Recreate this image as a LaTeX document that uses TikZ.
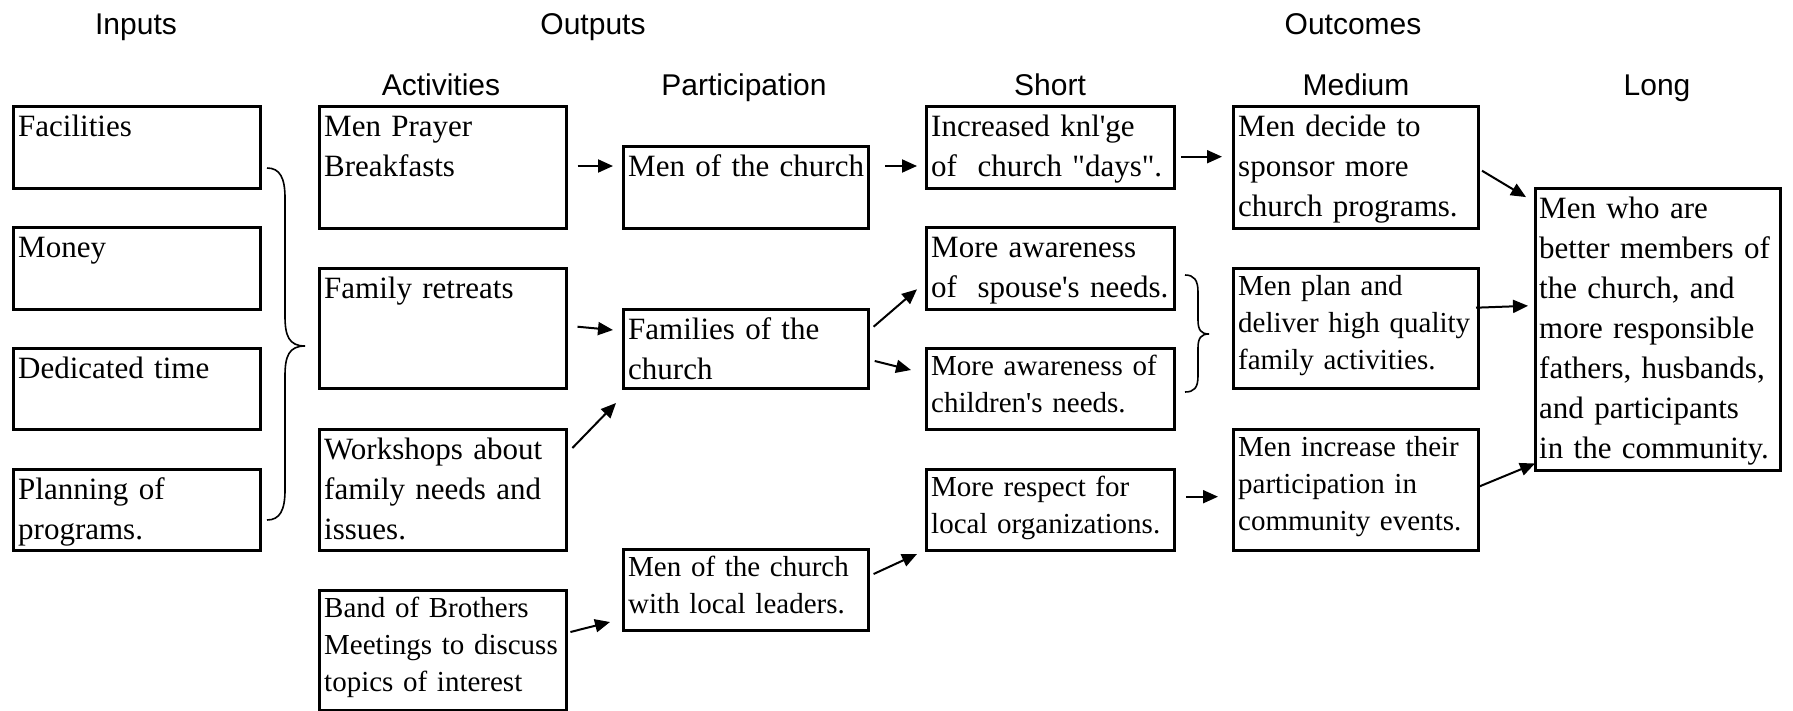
\documentclass[tikz,border=0pt]{standalone}
\usepackage{fontspec}
\newfontfamily\boxfont{Liberation Serif}
\newfontfamily\hdrfont{Liberation Sans}
\usetikzlibrary{arrows.meta,calc}
\begin{document}
\begin{tikzpicture}[x=1pt,y=-1pt,
  box/.style={draw,line width=3pt,inner sep=0pt,anchor=north west},
  big/.style={anchor=base west,inner sep=0pt,text width=260pt,align=left,font=\boxfont\fontsize{31}{40}\selectfont},
  sml/.style={anchor=base west,inner sep=0pt,text width=260pt,align=left,font=\boxfont\fontsize{29}{37}\selectfont},
  lngt/.style={anchor=base west,inner sep=0pt,text width=260pt,align=left,font=\boxfont\fontsize{31}{40}\selectfont},
  hdr/.style={anchor=base,inner sep=0pt,font=\hdrfont\fontsize{30}{36}\selectfont},
  arr/.style={line width=2pt,-{Triangle[length=15pt,width=13pt]}},
  brc/.style={line width=1.6pt}]
\useasboundingbox (0,0) rectangle (1793,710);

% headers
\node[hdr] (hIn) at (136,34) {Inputs};
\node[hdr] (hOut) at (593,34) {Outputs};
\node[hdr] (hOc) at (1353,34) {Outcomes};
\node[hdr] (hAct) at (441,95) {Activities};
\node[hdr] (hPar) at (744,95) {Participation};
\node[hdr] (hSh) at (1050,95) {Short};
\node[hdr] (hMed) at (1356,95) {Medium};
\node[hdr] (hLong) at (1657,95) {Long};

% inputs
\node[box,minimum width=247pt,minimum height=82pt] (fac) at (12,105) {};
\node[box,minimum width=247pt,minimum height=82pt] (mon) at (12,226) {};
\node[box,minimum width=247pt,minimum height=81pt] (ded) at (12,347) {};
\node[box,minimum width=247pt,minimum height=81pt] (pla) at (12,468) {};
\node[big] (facT) at ($(fac.north west)+(6,31.5)$) {Facilities};
\node[big] (monT) at ($(mon.north west)+(6,31.5)$) {Money};
\node[big] (dedT) at ($(ded.north west)+(6,31.5)$) {Dedicated time};
\node[big] (plaT) at ($(pla.north west)+(6,31.5)$) {Planning of\\programs.};

% activities
\node[box,minimum width=247pt,minimum height=122pt] (mp) at (318,105) {};
\node[box,minimum width=247pt,minimum height=120pt] (fr) at (318,267) {};
\node[box,minimum width=247pt,minimum height=121pt] (ws) at (318,428) {};
\node[box,minimum width=247pt,minimum height=120pt] (bb) at (318,589) {};
\node[big] (mpT) at ($(mp.north west)+(6,31.5)$) {Men Prayer\\Breakfasts};
\node[big] (frT) at ($(fr.north west)+(6,31.5)$) {Family retreats};
\node[big] (wsT) at ($(ws.north west)+(6,31.5)$) {Workshops about\\family needs and\\issues.};
\node[sml] (bbT) at ($(bb.north west)+(6,28)$) {Band of Brothers\\Meetings to discuss\\topics of interest};

% participation
\node[box,minimum width=245pt,minimum height=82pt] (mc) at (622,145) {};
\node[box,minimum width=245pt,minimum height=79pt] (fam) at (622,308) {};
\node[box,minimum width=245pt,minimum height=81pt] (lead) at (622,548) {};
\node[big] (mcT) at ($(mc.north west)+(6,31.5)$) {Men of the church};
\node[big] (famT) at ($(fam.north west)+(6,31)$) {Families of the\\church};
\node[sml] (leadT) at ($(lead.north west)+(6,28.4)$) {Men of the church\\with local leaders.};

% short
\node[box,minimum width=248pt,minimum height=82pt] (inc) at (925,105) {};
\node[box,minimum width=248pt,minimum height=82pt] (sp) at (925,226) {};
\node[box,minimum width=248pt,minimum height=81pt] (ch) at (925,347) {};
\node[box,minimum width=248pt,minimum height=81pt] (res) at (925,468) {};
\node[big] (incT) at ($(inc.north west)+(6,31.5)$) {Increased knl'ge\\of\ \ church "days".};
\node[big] (spT) at ($(sp.north west)+(6,31)$) {More awareness\\of\ \ spouse's needs.};
\node[sml] (chT) at ($(ch.north west)+(6,28.4)$) {More awareness of\\children's needs.};
\node[sml] (resT) at ($(res.north west)+(6,28.4)$) {More respect for\\local organizations.};

% medium
\node[box,minimum width=245pt,minimum height=122pt] (dec) at (1232,105) {};
\node[box,minimum width=245pt,minimum height=120pt] (plan) at (1232,267) {};
\node[box,minimum width=245pt,minimum height=121pt] (incr) at (1232,428) {};
\node[big] (decT) at ($(dec.north west)+(6,31.5)$) {Men decide to\\sponsor more\\church programs.};
\node[sml] (planT) at ($(plan.north west)+(6,28.4)$) {Men plan and\\deliver high quality\\family activities.};
\node[sml] (incrT) at ($(incr.north west)+(6,28.4)$) {Men increase their\\participation in\\community events.};

% long
\node[box,minimum width=245pt,minimum height=282pt] (lng) at (1534,186.5) {};
\node[lngt] (lngT) at ($(lng.north west)+(5,32)$) {Men who are\\better members of\\the church, and\\more responsible\\fathers, husbands,\\and participants\\in the community.};

% braces
\draw[brc] (267,168) .. controls (280,168) and (285,178) .. (285,198)
  -- (285,316) .. controls (285,336) and (289,346) .. (305,346)
  .. controls (289,346) and (285,356) .. (285,376)
  -- (285,490) .. controls (285,510) and (280,520) .. (267,520);
\draw[brc] (1185,275) .. controls (1194,275) and (1198,280) .. (1198,292)
  -- (1198,320) .. controls (1198,330) and (1201,334) .. (1209,334)
  .. controls (1201,334) and (1198,338) .. (1198,348)
  -- (1198,376) .. controls (1198,388) and (1194,392) .. (1185,392);

% arrows
\draw[arr] ($(mp.north east)+(9.5,61)$) -- ($(mc.north west)+(-9,21)$);
\draw[arr] ($(fr.north east)+(9.5,59.7)$) -- ($(fam.north west)+(-9,22)$);
\draw[arr] ($(ws.north east)+(4.4,20)$) -- ($(fam.south west)+(-6,13)$);
\draw[arr] ($(bb.north east)+(2.4,43)$) -- ($(lead.north west)+(-12,74)$);
\draw[arr] ($(mc.north east)+(15,21)$) -- ($(inc.north west)+(-8,61)$);
\draw[arr] ($(fam.north east)+(3.6,18.7)$) -- ($(sp.north west)+(-8,63.3)$);
\draw[arr] ($(fam.north east)+(4.7,53)$) -- ($(ch.north west)+(-14,23)$);
\draw[arr] ($(lead.north east)+(3.6,26)$) -- ($(res.north west)+(-8,86)$);
\draw[arr] ($(inc.north east)+(5,51.7)$) -- ($(dec.north west)+(-10,51.7)$);
\draw[arr] ($(res.north east)+(10,28.7)$) -- ($(incr.north west)+(-14,68.7)$);
\draw[arr] ($(dec.north east)+(2,65.7)$) -- ($(lng.north west)+(-8,10.6)$);
\draw[arr] ($(plan.north east)+(-4,40.7)$) -- ($(lng.north west)+(-6,119.3)$);
\draw[arr] ($(incr.north east)+(-2,59)$) -- ($(lng.south west)+(1,-8)$);
\end{tikzpicture}
\end{document}
